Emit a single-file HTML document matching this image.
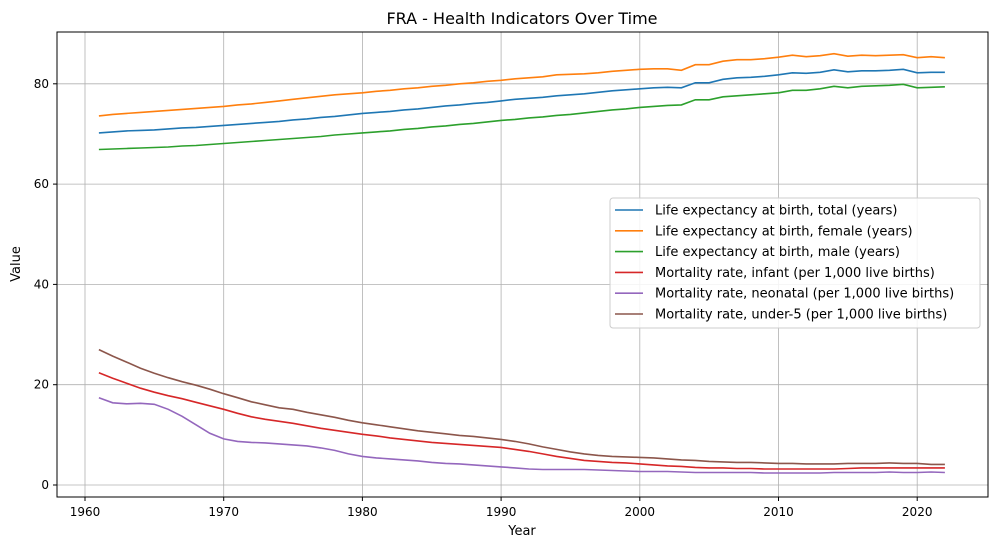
<!DOCTYPE html>
<html><head><meta charset="utf-8"><style>
body{margin:0;background:#fff;font-family:"Liberation Sans","DejaVu Sans",sans-serif;}
svg text{font-family:"DejaVu Sans","Liberation Sans",sans-serif;}
</style></head><body>
<svg id="chart" width="996" height="547" xmlns="http://www.w3.org/2000/svg">
<text x="522" y="24" text-anchor="middle" font-size="16">FRA - Health Indicators Over Time</text>
<g id="grid"></g>
<rect x="57" y="32" width="931" height="465" fill="none" stroke="#000" stroke-width="1"/>
<g id="series"></g>
<g id="axes"></g>
<text x="522" y="535" text-anchor="middle" font-size="13">Year</text>
<text x="20" y="264" text-anchor="middle" font-size="13" transform="rotate(-90 20 264)">Value</text>
<g id="legend"></g>
</svg>
<script>
const years=[];for(let y=1961;y<=2022;y++)years.push(y);
const lifeTotal=[70.2,70.4,70.6,70.7,70.8,71.0,71.2,71.3,71.5,71.7,71.9,72.1,72.3,72.5,72.8,73.0,73.3,73.5,73.8,74.1,74.3,74.5,74.8,75.0,75.3,75.6,75.8,76.1,76.3,76.6,76.9,77.1,77.3,77.6,77.8,78.0,78.3,78.6,78.8,79.0,79.2,79.3,79.2,80.2,80.2,80.9,81.2,81.3,81.5,81.8,82.2,82.1,82.3,82.8,82.4,82.6,82.6,82.7,82.9,82.2,82.3,82.3];
const lifeFemale=[73.6,73.9,74.1,74.3,74.5,74.7,74.9,75.1,75.3,75.5,75.8,76.0,76.3,76.6,76.9,77.2,77.5,77.8,78.0,78.2,78.5,78.7,79.0,79.2,79.5,79.7,80.0,80.2,80.5,80.7,81.0,81.2,81.4,81.8,81.9,82.0,82.2,82.5,82.7,82.9,83.0,83.0,82.7,83.8,83.8,84.5,84.8,84.8,85.0,85.3,85.7,85.4,85.6,86.0,85.5,85.7,85.6,85.7,85.8,85.2,85.4,85.2];
const lifeMale=[66.9,67.0,67.1,67.2,67.3,67.4,67.6,67.7,67.9,68.1,68.3,68.5,68.7,68.9,69.1,69.3,69.5,69.8,70.0,70.2,70.4,70.6,70.9,71.1,71.4,71.6,71.9,72.1,72.4,72.7,72.9,73.2,73.4,73.7,73.9,74.2,74.5,74.8,75.0,75.3,75.5,75.7,75.8,76.8,76.8,77.4,77.6,77.8,78.0,78.2,78.7,78.7,79.0,79.5,79.2,79.5,79.6,79.7,79.9,79.2,79.3,79.4];
const infant=[22.4,21.3,20.3,19.3,18.5,17.8,17.2,16.5,15.8,15.1,14.3,13.6,13.1,12.7,12.3,11.8,11.3,10.9,10.5,10.1,9.8,9.4,9.1,8.8,8.5,8.3,8.1,7.9,7.7,7.5,7.1,6.7,6.2,5.7,5.3,4.9,4.7,4.5,4.4,4.2,4.0,3.8,3.7,3.5,3.4,3.4,3.3,3.3,3.2,3.2,3.2,3.2,3.2,3.2,3.3,3.4,3.4,3.4,3.4,3.4,3.4,3.4];
const neonatal=[17.4,16.4,16.2,16.3,16.1,15.1,13.7,12.0,10.3,9.2,8.7,8.5,8.4,8.2,8.0,7.8,7.4,6.9,6.2,5.7,5.4,5.2,5.0,4.8,4.5,4.3,4.2,4.0,3.8,3.6,3.4,3.2,3.1,3.1,3.1,3.1,3.0,2.9,2.8,2.7,2.7,2.7,2.6,2.5,2.5,2.5,2.5,2.5,2.4,2.4,2.4,2.4,2.4,2.5,2.5,2.5,2.5,2.6,2.5,2.5,2.6,2.5];
const under5=[27.0,25.7,24.5,23.3,22.3,21.4,20.6,19.9,19.1,18.2,17.4,16.6,16.0,15.4,15.1,14.5,14.0,13.5,12.9,12.4,12.0,11.6,11.2,10.8,10.5,10.2,9.9,9.7,9.4,9.1,8.7,8.2,7.6,7.1,6.6,6.2,5.9,5.7,5.6,5.5,5.4,5.2,5.0,4.9,4.7,4.6,4.5,4.5,4.4,4.3,4.3,4.2,4.2,4.2,4.3,4.3,4.3,4.4,4.3,4.3,4.1,4.1];
const seriesNames=["Life expectancy at birth, total (years)","Life expectancy at birth, female (years)","Life expectancy at birth, male (years)","Mortality rate, infant (per 1,000 live births)","Mortality rate, neonatal (per 1,000 live births)","Mortality rate, under-5 (per 1,000 live births)"];
const seriesData=[lifeTotal,lifeFemale,lifeMale,infant,neonatal,under5];
const colors=["#1f77b4","#ff7f0e","#2ca02c","#d62728","#9467bd","#8c564b"];
const xTicks=[1960,1970,1980,1990,2000,2010,2020];
const yTicks=[0,20,40,60,80];
const NS="http://www.w3.org/2000/svg";
const xs=y=>85+(y-1960)*13.87;
const ys=v=>485-v*5.015;
function mk(t,a,p){const e=document.createElementNS(NS,t);for(const k in a)e.setAttribute(k,a[k]);p.appendChild(e);return e;}
const grid=document.getElementById('grid'),axes=document.getElementById('axes'),ser=document.getElementById('series'),leg=document.getElementById('legend');
xTicks.forEach(t=>{const x=xs(t);
const g=mk('line',{x1:x,x2:x,y1:32,y2:497,stroke:'#b0b0b0','stroke-width':0.8},grid);


mk('line',{x1:x,x2:x,y1:497,y2:501,stroke:'#000'},axes);
const l=mk('text',{x:x,y:516,'text-anchor':'middle','font-size':12},axes);l.textContent=t;

});
yTicks.forEach(t=>{const y=ys(t);
const g=mk('line',{x1:57,x2:988,y1:y,y2:y,stroke:'#b0b0b0','stroke-width':0.8},grid);


mk('line',{x1:53,x2:57,y1:y,y2:y,stroke:'#000'},axes);
const l=mk('text',{x:49,y:y+4,'text-anchor':'end','font-size':12},axes);l.textContent=t;

});
seriesData.forEach((d,i)=>{const pts=d.map((v,j)=>xs(years[j]).toFixed(1)+','+ys(v).toFixed(1)).join(' ');
const p=mk('polyline',{points:pts,fill:'none',stroke:colors[i],'stroke-width':1.6},ser);

});
const box=mk('rect',{x:610,y:198,width:370,height:130,rx:3,fill:'#fff','fill-opacity':0.85,stroke:'#ccc'},leg);


seriesNames.forEach((n,i)=>{const y=210+i*20.8;
const g=mk('g',{},leg);


mk('line',{x1:615,x2:643,y1:y,y2:y,stroke:colors[i],'stroke-width':1.6},g);
const t=mk('text',{x:655,y:y+4.5,'font-size':13},g);t.textContent=n;});
</script>
</body></html>
